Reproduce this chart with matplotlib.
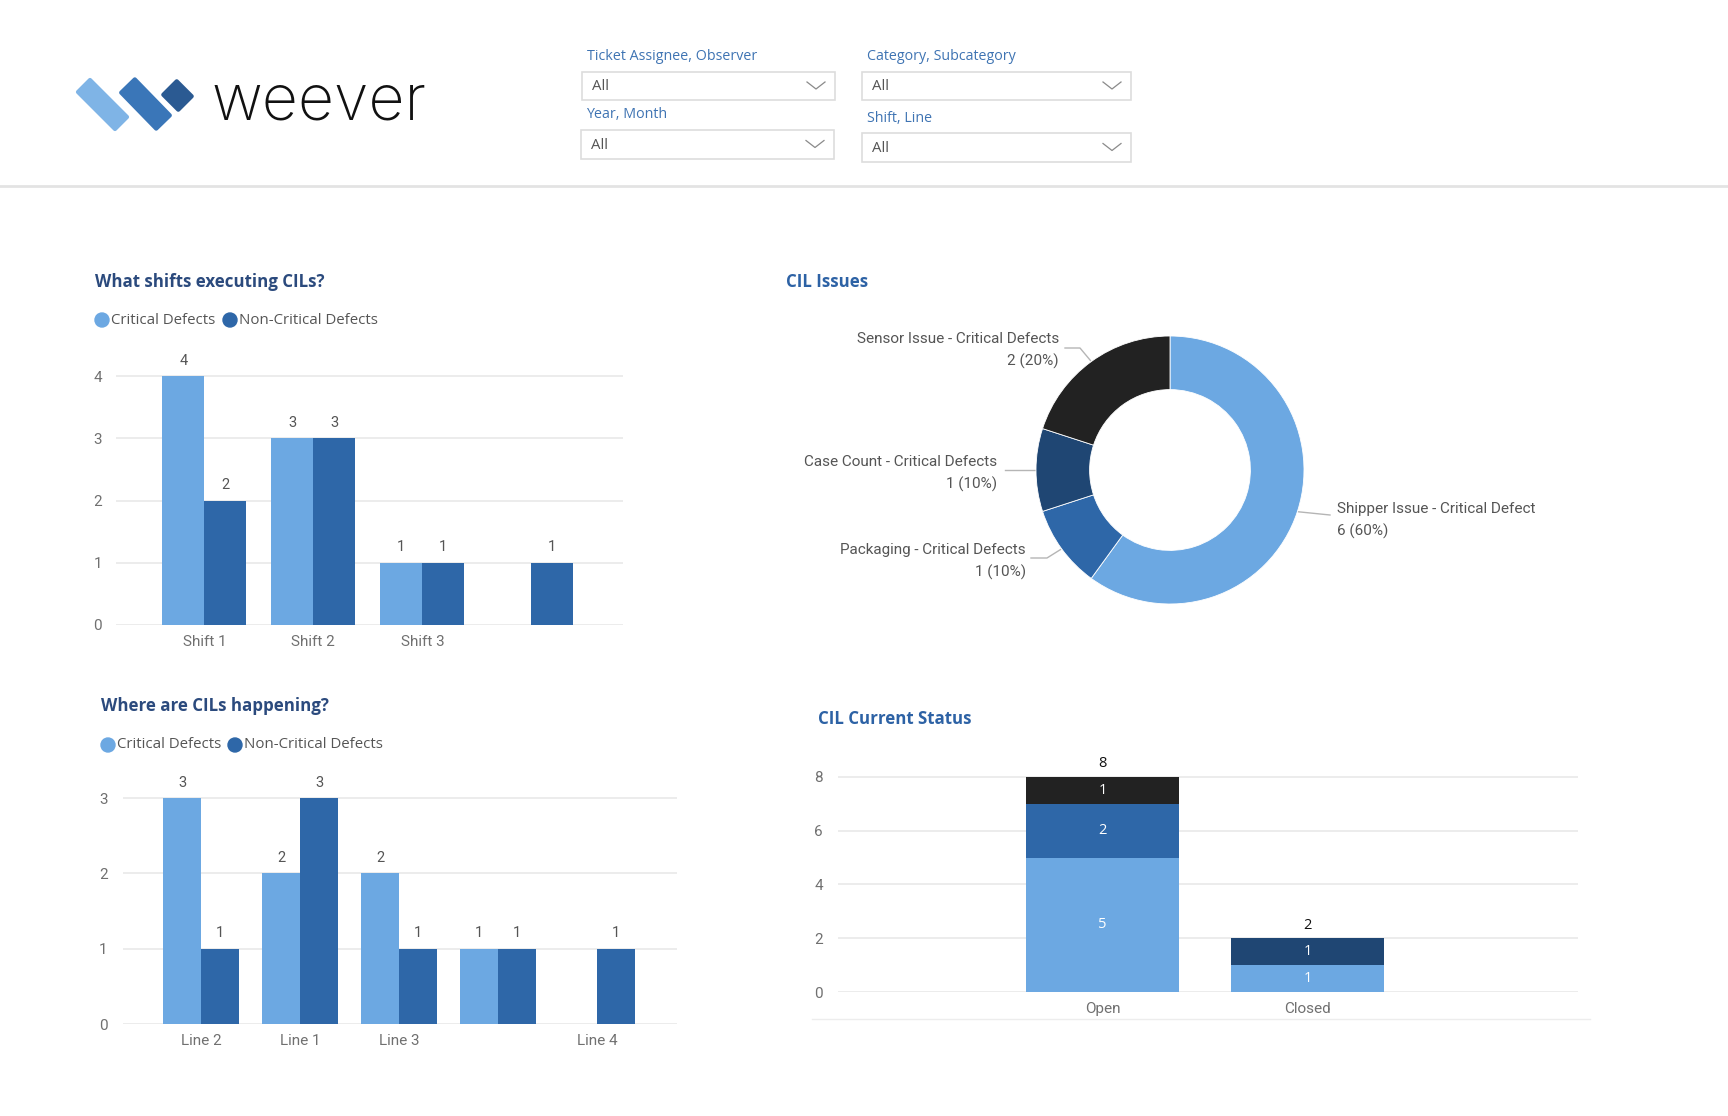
import numpy as np
import matplotlib.pyplot as plt
from matplotlib.patches import Polygon, Rectangle, Circle

# canvas size in pixels
W, H = 1728, 1116

shifts = ["Shift 1", "Shift 2", "Shift 3", ""]
shift_critical = [4, 3, 1, 0]
shift_noncritical = [2, 3, 1, 1]

lines = ["Line 2", "Line 1", "Line 3", "", "Line 4"]
line_critical = [3, 2, 2, 1, 0]
line_noncritical = [1, 3, 1, 1, 1]

issues = ["Shipper Issue - Critical Defect", "Packaging - Critical Defects",
          "Case Count - Critical Defects", "Sensor Issue - Critical Defects"]
issue_counts = [6, 1, 1, 2]

status = ["Open", "Closed"]
status_shipper = [5, 1]
status_packaging = [2, 0]
status_casecount = [0, 1]
status_sensor = [1, 0]

filters = ["Ticket Assignee, Observer", "Year, Month", "Category, Subcategory", "Shift, Line"]

# colours
LIGHT = "#6CA8E2"
MID = "#2E67A8"
NAVY = "#1F4673"
BLACK = "#222222"
GRID = "#E9E9E9"
TICK = "#707070"
LABEL = "#555555"

BODY = "Open Sans"
NUM = "Roboto"

fig = plt.figure(figsize=(W / 100, H / 100), dpi=100)
fig.patch.set_facecolor("white")

# overlay axes in pixel coordinates for the page decorations
ov = fig.add_axes([0, 0, 1, 1])
ov.set_xlim(0, W)
ov.set_ylim(H, 0)
ov.axis("off")


def px_axes(left, top, right, bottom):
    return fig.add_axes([left / W, 1 - bottom / H, (right - left) / W, (bottom - top) / H])


# ---- logo ----
def rot_rect(p1, p2, w, color):
    p1 = np.array(p1, float)
    p2 = np.array(p2, float)
    d = p2 - p1
    n = np.array([-d[1], d[0]]) / np.hypot(*d) * w / 2
    pts = [p1 + n, p2 + n, p2 - n, p1 - n]
    ov.add_patch(Polygon(pts, closed=True, facecolor=color, edgecolor=color,
                         linewidth=3, joinstyle="round"))

rot_rect((84, 86), (121, 123), 17, "#7FB4E6")
rot_rect((128, 86), (163, 122), 19, "#3A76B8")
rot_rect((170, 88), (185, 103), 19, "#2B5A92")
ov.text(211, 103, "weever", fontsize=45, family="Inter", fontweight=200,
        color="#111111", va="center", ha="left")

# ---- filter boxes ----
boxes = [(582, 72, 835, 100), (581, 130, 834, 159), (862, 72, 1131, 100), (862, 133, 1131, 162)]
for name, (x0, y0, x1, y1) in zip(filters, boxes):
    ov.text(x0 + 5, y0 - 15, name, fontsize=10.3, family=BODY, color="#3F74B3",
            va="center", ha="left")
    ov.add_patch(Rectangle((x0, y0), x1 - x0, y1 - y0, facecolor="white",
                           edgecolor="#DDDDDD", linewidth=1.2))
    ym = (y0 + y1) / 2
    ov.text(x0 + 10, ym + 1, "All", fontsize=10.8, family=BODY, color="#555555",
            va="center", ha="left")
    ov.plot([x1 - 28, x1 - 19, x1 - 10], [ym - 4, ym + 3, ym - 4],
            color="#8A8A8A", linewidth=0.9)

ov.plot([0, W], [186, 186], color="#E3E3E3", linewidth=2)

# ---- titles ----
ov.text(95, 282, "What shifts executing CILs?", fontsize=12.2, family=BODY,
        fontweight="bold", color="#2B4A7D", va="center")
ov.text(786, 282, "CIL Issues", fontsize=12.2, family=BODY,
        fontweight="bold", color="#2D62A5", va="center")
ov.text(101, 706, "Where are CILs happening?", fontsize=12.2, family=BODY,
        fontweight="bold", color="#2B4A7D", va="center")
ov.text(818, 719, "CIL Current Status", fontsize=12.2, family=BODY,
        fontweight="bold", color="#2D62A5", va="center")


def legend(x1, x2, y):
    for x, txt, c in [(x1, "Critical Defects", LIGHT), (x2, "Non-Critical Defects", MID)]:
        ov.add_patch(Circle((x, y), 7, color=c))
        ov.text(x + 9, y, txt, fontsize=10.8, family=BODY, color="#555555",
                va="center", ha="left")

legend(102, 230, 320)
legend(108, 235, 745)


def style(ax, ypad):
    for s in ax.spines.values():
        s.set_visible(False)
    ax.set_facecolor("none")
    ax.grid(axis="y", color=GRID, linewidth=1.2)
    ax.set_axisbelow(True)
    ax.tick_params(length=0, labelsize=11, labelcolor=TICK)
    ax.tick_params(axis="y", pad=ypad)
    ax.tick_params(axis="x", pad=7.5)
    for t in ax.get_xticklabels() + ax.get_yticklabels():
        t.set_family(NUM)


def grouped(ax, cats, crit, noncrit, ymax, xlim, ypad):
    x = np.arange(len(cats))
    w = 0.385
    b1 = ax.bar(x - w / 2, crit, w, color=LIGHT)
    b2 = ax.bar(x + w / 2, noncrit, w, color=MID)
    for b, vals in [(b1, crit), (b2, noncrit)]:
        ax.bar_label(b, labels=[str(v) if v else "" for v in vals], padding=6,
                     fontsize=10.5, color=LABEL, family=NUM)
    ax.set_xticks(x)
    ax.set_xticklabels(cats)
    ax.set_yticks(range(0, ymax + 1))
    ax.set_ylim(0, ymax + 0.5)
    ax.set_xlim(*xlim)
    style(ax, ypad)


# ---- shifts chart ----
ax1 = px_axes(116, 625 - 4.5 * 62.2, 623, 625)
grouped(ax1, shifts, shift_critical, shift_noncritical, 4, (-0.81, 3.84), 10)

# ---- lines chart ----
ax2 = px_axes(123, 1024 - 3.5 * 75.3, 677, 1024)
grouped(ax2, lines, line_critical, line_noncritical, 3, (-0.79, 4.81), 11)

# ---- donut ----
cx, cy, R = 1170, 470, 134
ax3 = px_axes(cx - 200, cy - 200, cx + 200, cy + 200)
ax3.set_facecolor("none")
ax3.pie(issue_counts, colors=[LIGHT, MID, NAVY, BLACK], startangle=90,
        counterclock=False, radius=1,
        wedgeprops=dict(width=0.4, edgecolor="white", linewidth=0.6))
ax3.set_xlim(-200 / R, 200 / R)
ax3.set_ylim(-200 / R, 200 / R)
ax3.set_aspect("equal")
ax3.axis("off")

total = sum(issue_counts)
start = 90.0
# label placement (pixels): elbow point, line end, text anchor x, side, text y
label_pos = [((1330, 515), (1330, 515), 1337, "left", 509),
             ((1047, 558), (1031, 558), 1026, "right", 550),
             ((1034, 470), (1005, 470), 997, "right", 462),
             ((1080, 348), (1065, 348), 1059, "right", 339)]
for name, v, (elbow, end, tx, side, ty) in zip(issues, issue_counts, label_pos):
    mid = np.deg2rad(start - 360 * v / total / 2)
    start -= 360 * v / total
    px0 = cx + R * 1.01 * np.cos(mid)
    py0 = cy - R * 1.01 * np.sin(mid)
    ov.plot([px0, elbow[0], end[0]], [py0, elbow[1], end[1]], color="#B5B5B5",
            linewidth=1, zorder=5)
    ov.text(tx, ty, name, fontsize=11, family=NUM, color="#555555", ha=side, va="center")
    ov.text(tx, ty + 22, "%d (%d%%)" % (v, round(100 * v / total)), fontsize=11,
            family=NUM, color="#555555", ha=side, va="center")

# ---- stacked status chart ----
ax4 = px_axes(838, 992 - 8.6 * 26.9, 1578, 992)
xs = np.arange(len(status))
bottom = np.zeros(len(status))
for vals, c in [(status_shipper, LIGHT), (status_packaging, MID),
                (status_casecount, NAVY), (status_sensor, BLACK)]:
    b = ax4.bar(xs, vals, 0.75, bottom=bottom, color=c)
    ax4.bar_label(b, labels=[str(v) if v else "" for v in vals], label_type="center",
                  color="white", fontsize=10.5, family=BODY)
    bottom += np.array(vals)
for x, t in zip(xs, bottom):
    ax4.annotate("%d" % t, (x, t), xytext=(0, 4), textcoords="offset points",
                 ha="center", va="bottom", fontsize=10.5, family=BODY, color="#111111")
ax4.set_xticks(xs)
ax4.set_xticklabels(status)
ax4.set_yticks(range(0, 9, 2))
ax4.set_ylim(0, 8.6)
ax4.set_xlim(-1.29, 2.32)
style(ax4, 11)
ov.plot([812, 1590], [1019, 1019], color="#EDEDED", linewidth=1)

fig.savefig("out.png", dpi=100, facecolor="white")
